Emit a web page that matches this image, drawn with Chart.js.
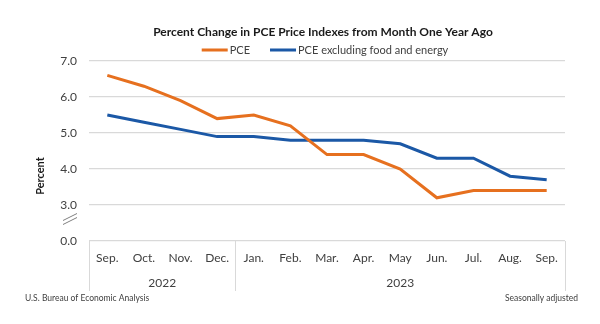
<!DOCTYPE html>
<html>
<head>
<meta charset="utf-8">
<script src="https://cdn.jsdelivr.net/npm/chart.js@4/dist/chart.umd.min.js"></script>
<style>
    html, body { margin: 0; padding: 0; background: #ffffff; }
    #wrap { width: 600px; height: 324px; }
</style>
</head>
<body>
<div id="wrap"><canvas id="pceChart"></canvas></div>
<script>
// Month labels, two-level axis (months under years)
const months = ['Sep.', 'Oct.', 'Nov.', 'Dec.', 'Jan.', 'Feb.', 'Mar.', 'Apr.', 'May', 'Jun.', 'Jul.', 'Aug.', 'Sep.'];
const yearLabels = ['2022', '2023'];
const yearSpans = [4, 9];   // number of months under each year

// Percent change from month one year ago
const pce = [6.6, 6.3, 5.9, 5.4, 5.5, 5.2, 4.4, 4.4, 4.0, 3.2, 3.4, 3.4, 3.4];
const pceCore = [5.5, 5.3, 5.1, 4.9, 4.9, 4.8, 4.8, 4.8, 4.7, 4.3, 4.3, 3.8, 3.7];

// Y axis is broken between 0 and 3: values from 3 up are shifted down
const yTickLabels = ['0.0', '3.0', '4.0', '5.0', '6.0', '7.0'];
const breakShift = 2;

const chartTitle = 'Percent Change in PCE Price Indexes from Month One Year Ago';

const colors = {
    pce: '#e6701f',
    core: '#1b58a6',
    grid: '#d9d9d9',
    text: '#404040',
    title: '#1a1a1a'
};
const fontFamily = 'Lato, "Open Sans", sans-serif';

const shifted = arr => arr.map(v => v - breakShift);

// Header: title and line legend, centred over the plot
const headerPlugin = {
    id: 'beaHeader',
    afterDraw(chart) {
        const ctx = chart.ctx;
        const area = chart.chartArea;
        const cx = (area.left + area.right) / 2 - 4;

        ctx.save();
        ctx.textBaseline = 'middle';
        ctx.textAlign = 'center';
        ctx.fillStyle = colors.title;
        ctx.font = 'bold 12px ' + fontFamily;
        ctx.fillText(chartTitle, cx, 32);

        // legend items: line sample, small gap, label
        ctx.font = '11px ' + fontFamily;
        const sample = 26, gap = 2, between = 20;
        const items = chart.data.datasets.map(ds => ({
            text: ds.label,
            color: ds.borderColor,
            w: sample + gap + ctx.measureText(ds.label).width
        }));
        const total = items.reduce((s, it) => s + it.w, 0) + between * (items.length - 1);
        let x = cx + 2 - total / 2;
        const y = 50;
        ctx.textAlign = 'left';
        items.forEach(it => {
            ctx.fillStyle = it.color;
            ctx.fillRect(x, y - 1.5, sample, 3);
            ctx.fillStyle = colors.text;
            ctx.fillText(it.text, x + sample + gap, y);
            x += it.w + between;
        });
        ctx.restore();
    }
};

// Draws the category box, year row, axis break, axis title and footnotes
const framePlugin = {
    id: 'beaFrame',
    afterDraw(chart) {
        const ctx = chart.ctx;
        const xs = chart.scales.x;
        const ys = chart.scales.y;
        const area = chart.chartArea;
        const boxBottom = area.bottom + 50;

        ctx.save();
        ctx.strokeStyle = colors.grid;
        ctx.lineWidth = 1;

        // vertical dividers: left edge, year boundaries, right edge
        const dividers = [area.left];
        let idx = 0;
        yearSpans.forEach((n, i) => {
            idx += n;
            if (i < yearSpans.length - 1) {
                dividers.push((xs.getPixelForValue(idx - 1) + xs.getPixelForValue(idx)) / 2);
            }
        });
        dividers.push(area.right);
        dividers.forEach(x => {
            ctx.beginPath();
            ctx.moveTo(Math.round(x) + 0.5, area.bottom);
            ctx.lineTo(Math.round(x) + 0.5, boxBottom);
            ctx.stroke();
        });

        // year labels centred under their months
        ctx.fillStyle = colors.text;
        ctx.font = '12px ' + fontFamily;
        ctx.textAlign = 'center';
        ctx.textBaseline = 'middle';
        yearLabels.forEach((label, i) => {
            ctx.fillText(label, (dividers[i] + dividers[i + 1]) / 2, area.bottom + 42);
        });

        // axis break marks between 0.0 and 3.0
        const yMid = (ys.getPixelForValue(0) + ys.getPixelForValue(1)) / 2 - 4;
        ctx.strokeStyle = '#7f7f7f';
        ctx.lineWidth = 1;
        [-2, 2].forEach(dy => {
            ctx.beginPath();
            ctx.moveTo(63, yMid + dy + 3.5);
            ctx.lineTo(77, yMid + dy - 3.5);
            ctx.stroke();
        });

        // y axis title
        ctx.save();
        ctx.translate(40, (area.top + boxBottom) / 2);
        ctx.rotate(-Math.PI / 2);
        ctx.font = 'bold 11px ' + fontFamily;
        ctx.fillStyle = colors.title;
        ctx.fillText('Percent', 0, 0);
        ctx.restore();

        // footnotes
        ctx.font = '8.5px ' + fontFamily;
        ctx.fillStyle = colors.text;
        ctx.textAlign = 'left';
        ctx.fillText('U.S. Bureau of Economic Analysis', 25, 298);
        ctx.textAlign = 'right';
        ctx.fillText('Seasonally adjusted', 578, 298);
        ctx.restore();
    }
};

new Chart(document.getElementById('pceChart').getContext('2d'), {
    type: 'line',
    data: {
        labels: months,
        datasets: [
            {
                label: 'PCE',
                data: shifted(pce),
                borderColor: colors.pce,
                backgroundColor: colors.pce,
                borderWidth: 3,
                pointRadius: 0,
                tension: 0
            },
            {
                label: 'PCE excluding food and energy',
                data: shifted(pceCore),
                borderColor: colors.core,
                backgroundColor: colors.core,
                borderWidth: 3,
                pointRadius: 0,
                tension: 0
            }
        ]
    },
    options: {
        responsive: true,
        maintainAspectRatio: false,
        animation: false,
        layout: {
            padding: { left: 0, right: 35, top: 61, bottom: 33 }
        },
        scales: {
            x: {
                type: 'category',
                offset: true,
                grid: { display: false, drawTicks: false },
                border: { display: false },
                ticks: {
                    color: colors.text,
                    font: { family: fontFamily, size: 12 },
                    padding: 10,
                    maxRotation: 0,
                    autoSkip: false
                },
                afterFit(scale) { scale.height = 50; }
            },
            y: {
                min: 0,
                max: 5,
                border: { display: false },
                grid: {
                    color: colors.grid,
                    lineWidth: 1.3,
                    drawTicks: false
                },
                ticks: {
                    stepSize: 1,
                    padding: 12,
                    color: colors.text,
                    font: { family: fontFamily, size: 12 },
                    callback: value => yTickLabels[value]
                },
                afterFit(scale) { scale.width = 89; }
            }
        },
        plugins: {
            title: { display: false },
            legend: { display: false },
            tooltip: { enabled: false }
        }
    },
    plugins: [framePlugin, headerPlugin]
});
</script>
</body>
</html>
